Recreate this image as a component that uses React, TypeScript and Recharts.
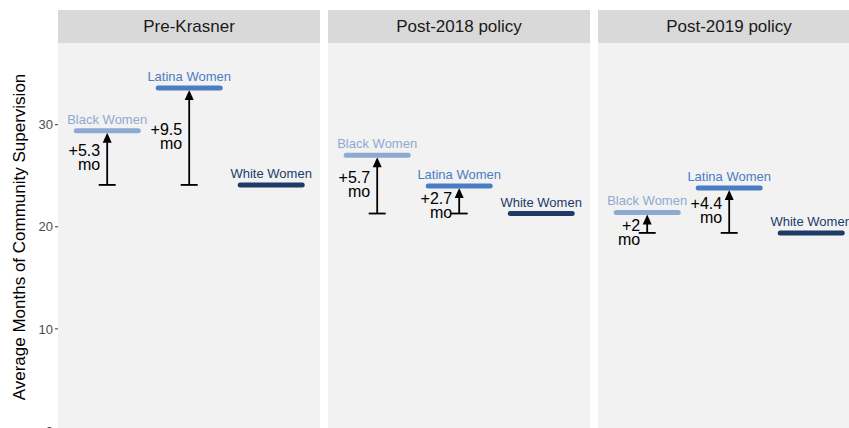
import React from 'react';
import { ComposedChart, Bar, XAxis, YAxis, CartesianGrid } from 'recharts';

const panels = ["Pre-Krasner", "Post-2018 policy", "Post-2019 policy"];
const groups = ["Black Women", "Latina Women", "White Women"];
const preKrasner = [29.4, 33.6, 24.1];
const post2018 = [27.0, 24.0, 21.3];
const post2019 = [21.4, 23.8, 19.4];
const yTicks = [0, 10, 20, 30];

const panelValues = [preKrasner, post2018, post2019];

const colors: Record<string, string> = {
  "Black Women": "#8eaad1",
  "Latina Women": "#4a7dc4",
  "White Women": "#1d3a69",
};

const font = '"Liberation Sans", Arial, Helvetica, sans-serif';

const fmtDiff = (d: number) => {
  const r = Math.round(d * 10) / 10;
  return "+" + (Number.isInteger(r) ? r.toFixed(0) : r.toFixed(1));
};

const Marker = (props: any) => {
  const { x, y, width, height, payload } = props;
  const cx = x + width / 2;
  const top = y;
  const bottom = y + height;
  const color = colors[payload.group];
  const diff = payload.value - payload.base;
  // keep the label block clear of the group segment on short arrows
  const mid = Math.max((top + bottom) / 2, top + 20);
  return (
    <g>
      {diff > 0 && (
        <g>
          <line x1={cx} x2={cx} y1={bottom} y2={top + 11} stroke="#000" strokeWidth={1.8} />
          <polygon points={`${cx},${top + 2} ${cx - 4.5},${top + 12} ${cx + 4.5},${top + 12}`} fill="#000" />
          <line x1={cx - 8.5} x2={cx + 8.5} y1={bottom} y2={bottom} stroke="#000" strokeWidth={1.8} />
          <text textAnchor="end" fontSize={16} fontFamily={font} fill="#000">
            <tspan x={cx - 7} y={mid - 1.5}>{fmtDiff(diff)}</tspan>
            <tspan x={cx - 7} y={mid + 12.5}>mo</tspan>
          </text>
        </g>
      )}
      <line x1={x + 2} x2={x + width - 2} y1={top} y2={top} stroke={color} strokeWidth={5} strokeLinecap="round" />
      <text x={cx} y={top - 7} textAnchor="middle" fontSize={13} fontFamily={font} fill={color}>
        {payload.group}
      </text>
    </g>
  );
};

const Panel = ({ title, values, left, showAxis }: { title: string; values: number[]; left: number; showAxis: boolean }) => {
  const base = values[2];
  const rows = groups.map((g, i) => ({ group: g, value: values[i], base, span: [base, values[i]] }));
  const axisW = showAxis ? 58 : 0;
  return (
    <div style={{ position: 'absolute', left, top: 0 }}>
      <div
        style={{
          position: 'absolute',
          left: axisW,
          top: 10,
          width: 262,
          height: 33,
          background: '#d9d9d9',
          color: '#1a1a1a',
          fontFamily: font,
          fontSize: 17,
          lineHeight: '33px',
          textAlign: 'center',
        }}
      >
        {title}
      </div>
      <ComposedChart
        width={262 + axisW}
        height={445}
        data={rows}
        margin={{ top: 43, right: 0, bottom: 14, left: 0 }}
        barCategoryGap="10%"
      >
        <CartesianGrid fill="#f2f2f2" stroke="none" horizontal={false} vertical={false} />
        <XAxis dataKey="group" hide padding={{ left: 8, right: 8 }} />
        <YAxis
          domain={[0, 38]}
          ticks={yTicks}
          hide={!showAxis}
          width={58}
          axisLine={false}
          tickLine={{ stroke: '#333' }}
          tickSize={3}
          tickMargin={2}
          tick={{ fill: '#4d4d4d', fontSize: 13, fontFamily: font }}
        />
        <Bar dataKey="span" shape={<Marker />} isAnimationActive={false} />
      </ComposedChart>
    </div>
  );
};

export default function App() {
  return (
    <div
      style={{
        position: 'absolute',
        left: 0,
        top: 0,
        width: 849,
        height: 428,
        overflow: 'hidden',
        background: '#fff',
      }}
    >
      <Panel title={panels[0]} values={panelValues[0]} left={0} showAxis />
      <Panel title={panels[1]} values={panelValues[1]} left={328} showAxis={false} />
      <Panel title={panels[2]} values={panelValues[2]} left={598} showAxis={false} />
      <svg width={40} height={428} style={{ position: 'absolute', left: 0, top: 0 }}>
        <text
          transform="translate(25,237) rotate(-90)"
          textAnchor="middle"
          fontSize={17}
          fontFamily={font}
          fill="#000"
        >
          Average Months of Community Supervision
        </text>
      </svg>
    </div>
  );
}
